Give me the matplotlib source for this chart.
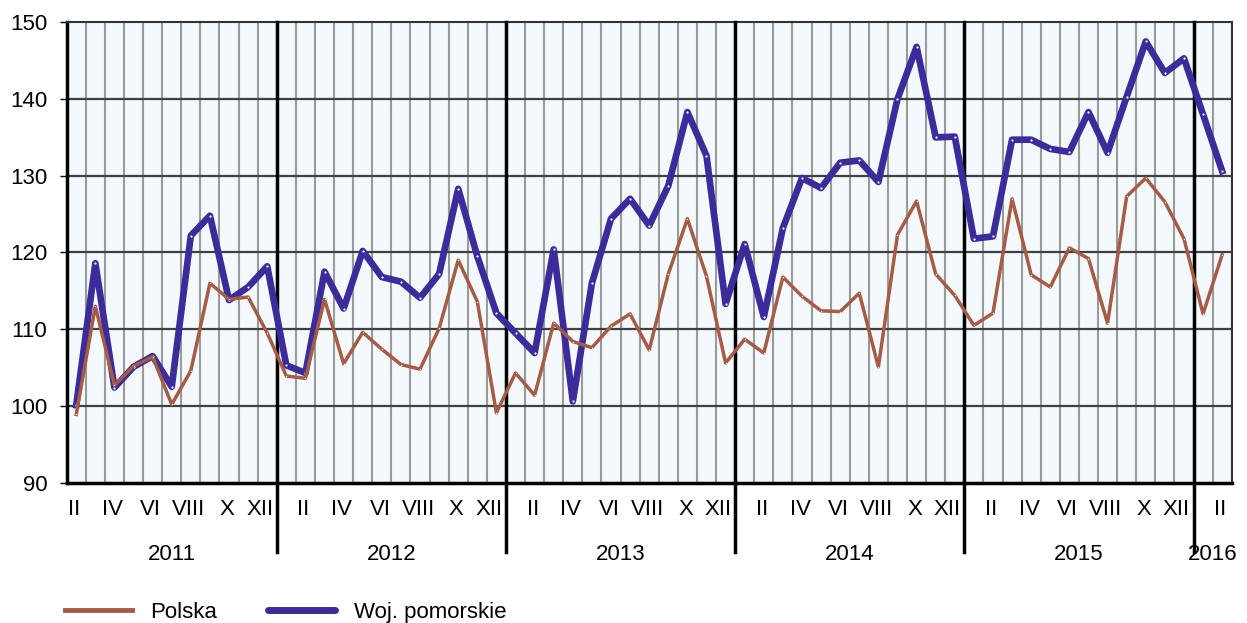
import numpy as np
import matplotlib
matplotlib.use("Agg")
import matplotlib.pyplot as plt
from matplotlib.lines import Line2D

plt.rcParams['font.family'] = ['Liberation Sans', 'DejaVu Sans']

# dane: II 2011 - II 2016, miesięcznie
polska = [98.9, 113.0, 102.7, 105.2, 106.4, 100.2, 104.6, 116.0, 113.9, 114.2, 109.5,
          103.9, 103.6, 113.9, 105.5, 109.6, 107.4, 105.4, 104.8, 110.1, 119.0, 113.6, 99.1,
          104.3, 101.4, 110.8, 108.4, 107.6, 110.4, 112.0, 107.3, 117.2, 124.4, 116.9, 105.6,
          108.7, 106.9, 116.8, 114.3, 112.4, 112.3, 114.7, 105.1, 122.3, 126.7, 117.2, 114.4,
          110.5, 112.1, 127.0, 117.1, 115.5, 120.6, 119.2, 110.8, 127.3, 129.7, 126.6, 121.8,
          112.0, 119.7]
pomorskie = [100.1, 118.6, 102.4, 105.1, 106.5, 102.5, 122.2, 124.8, 113.8, 115.5, 118.2,
             105.3, 104.3, 117.5, 112.7, 120.2, 116.8, 116.2, 114.1, 117.2, 128.3, 119.5, 112.1,
             109.5, 106.9, 120.4, 100.6, 116.0, 124.4, 127.0, 123.5, 128.7, 138.3, 132.6, 113.3,
             121.1, 111.6, 123.2, 129.7, 128.4, 131.7, 132.0, 129.2, 140.0, 146.8, 135.0, 135.1,
             121.8, 122.1, 134.7, 134.7, 133.5, 133.1, 138.3, 133.0, 140.3, 147.5, 143.4, 145.3,
             138.0, 130.6]
years = ['2011', '2012', '2013', '2014', '2015', '2016']
roman = ['I', 'II', 'III', 'IV', 'V', 'VI', 'VII', 'VIII', 'IX', 'X', 'XI', 'XII']

n = len(polska)
x = np.arange(n)
months = [(i + 1) % 12 + 1 for i in range(n)]

c_pl = '#A65B45'
c_pom = '#3B2B9B'
fs = 16

fig = plt.figure(figsize=(12.47, 6.23), dpi=100)
ax = fig.add_axes([66.7 / 1247, 1 - 482.7 / 623, (1231.7 - 66.7) / 1247, 460.4 / 623])
ax.set_facecolor('#F3F9FC')
ax.set_xlim(-0.5, n - 0.5)
ax.set_ylim(90, 150)

# siatka
for b in np.arange(-0.5, n, 1.0):
    ax.axvline(b, color='#9A9A9A', lw=1.5, zorder=1)
for v in range(100, 150, 10):
    ax.axhline(v, color='#404040', lw=1.6, zorder=1)

# granice lat
bounds = [i - 0.5 for i in range(n) if months[i] == 1]
for b in bounds:
    ax.plot([b, b], [-0.15, 1], color='black', lw=2.5, transform=ax.get_xaxis_transform(),
            clip_on=False, zorder=3)

ax.plot(x, pomorskie, color=c_pom, lw=4.8, zorder=4, solid_joinstyle='round',
        marker='o', ms=1.6, mfc='white', mec='white', mew=0)
ax.plot(x, polska, color=c_pl, lw=2.5, zorder=5, solid_joinstyle='round',
        marker='o', ms=1.0, mfc='white', mec='white', mew=0)

# osie
for s in ['left', 'bottom']:
    ax.spines[s].set_linewidth(2.5)
for s in ['top', 'right']:
    ax.spines[s].set_linewidth(1.5)
    ax.spines[s].set_color('#333333')
ax.set_yticks(range(90, 151, 10))
ax.tick_params(axis='y', labelsize=fs, length=5, width=1, pad=9)

lab_idx = [i for i in range(n) if months[i] % 2 == 0]
ax.set_xticks([i - 0.4 if months[i] == 12 else i - 0.1 for i in lab_idx])
ax.set_xticklabels([roman[months[i] - 1] for i in lab_idx])
ax.tick_params(axis='x', labelsize=fs, length=0, pad=12)

edges = [-0.5] + bounds + [n - 0.5]
for k, yr in enumerate(years):
    ax.text((edges[k] + edges[k + 1]) / 2, -0.155, yr, transform=ax.get_xaxis_transform(),
            ha='center', va='center', fontsize=fs)

handles = [Line2D([], [], color=c_pl, lw=3.5), Line2D([], [], color=c_pom, lw=5, solid_capstyle='round')]
fig.legend(handles, ['Polska', 'Woj. pomorskie'], loc='center left', bbox_to_anchor=(0.052, 0.017),
           ncol=2, frameon=False, fontsize=fs, handlelength=3.0, columnspacing=2.3,
           handletextpad=0.85, borderpad=0, borderaxespad=0)

fig.savefig('out.png', dpi=100)
